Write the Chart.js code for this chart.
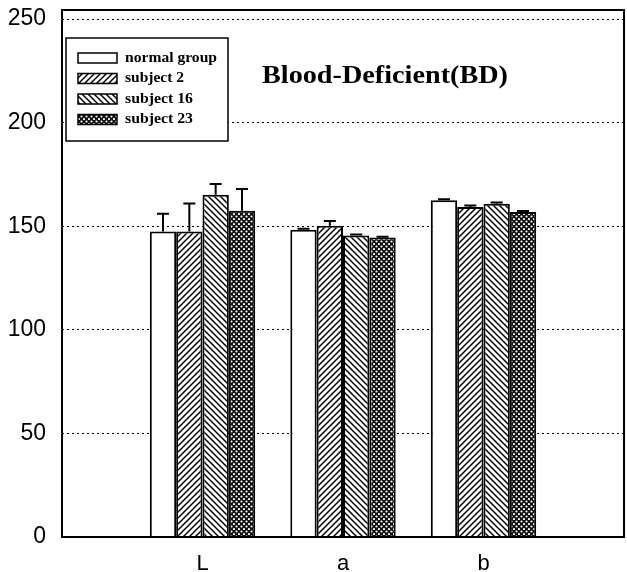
<!DOCTYPE html>
<html>
<head>
<meta charset="utf-8">
<script src="https://cdn.jsdelivr.net/npm/chart.js@4.4.1/dist/chart.umd.min.js"></script>
<style>
  body { margin: 0; background: #fff; }
  #wrap { width: 627px; height: 572px; }
</style>
</head>
<body>
<div id="wrap"><canvas id="chart" width="627" height="572"></canvas></div>
<script>
// --- DATA ---
const categories = ['', 'L', 'a', 'b', ''];
const seriesNames = ['normal group', 'subject 2', 'subject 16', 'subject 23'];
const normalGroup = [null, 147.5, 148.3, 162.5, null];
const subject2 = [null, 147.5, 150.2, 159.3, null];
const subject16 = [null, 165.2, 145.6, 160.9, null];
const subject23 = [null, 157.5, 144.6, 156.9, null];
// upper end of each error bar
const normalErr = [null, 156, 148.8, 163, null];
const subject2Err = [null, 161, 152.5, 160, null];
const subject16Err = [null, 170.4, 146, 161.5, null];
const subject23Err = [null, 168, 145, 157.4, null];
const yTicks = [0, 50, 100, 150, 200, 250];

// --- PATTERNS ---
function makePattern(kind) {
    const s = kind === 'dots' ? 5 : 6;
    const c = document.createElement('canvas');
    c.width = s; c.height = s;
    const g = c.getContext('2d');
    g.fillStyle = '#fff';
    g.fillRect(0, 0, s, s);
    g.strokeStyle = '#000';
    g.lineWidth = 1.5;
    if (kind === 'fwd') {
        g.beginPath();
        g.moveTo(0, s); g.lineTo(s, 0);
        g.moveTo(-1, 1); g.lineTo(1, -1);
        g.moveTo(s - 1, s + 1); g.lineTo(s + 1, s - 1);
        g.stroke();
    } else if (kind === 'back') {
        g.beginPath();
        g.moveTo(0, 0); g.lineTo(s, s);
        g.moveTo(s - 1, -1); g.lineTo(s + 1, 1);
        g.moveTo(-1, s - 1); g.lineTo(1, s + 1);
        g.stroke();
    } else if (kind === 'dots') {
        g.fillStyle = '#111';
        g.fillRect(0, 0, s, s);
        g.fillStyle = '#fff';
        g.beginPath();
        g.arc(1.5, 1.5, 1.1, 0, Math.PI * 2);
        g.arc(4, 4, 1.1, 0, Math.PI * 2);
        g.fill();
    }
    return g.createPattern(c, 'repeat');
}

const fills = ['#ffffff', makePattern('fwd'), makePattern('back'), makePattern('dots')];
const values = [normalGroup, subject2, subject16, subject23];
const errors = [normalErr, subject2Err, subject16Err, subject23Err];

// text squeezed/stretched to a given width
function fitText(ctx, text, x, y, w) {
    const m = ctx.measureText(text).width;
    ctx.save();
    ctx.translate(x, y);
    ctx.scale(w / m, 1);
    ctx.fillText(text, 0, 0);
    ctx.restore();
}

// --- PLUGINS ---
const framePlugin = {
    id: 'frame',
    afterDatasetsDraw(chart) {
        const ctx = chart.ctx;
        const a = chart.chartArea;
        const yScale = chart.scales.y;
        ctx.save();
        // error bars (upper only)
        ctx.strokeStyle = '#000';
        ctx.lineWidth = 2;
        chart.data.datasets.forEach((ds, i) => {
            const meta = chart.getDatasetMeta(i);
            meta.data.forEach((bar, j) => {
                const e = errors[i][j];
                if (e == null || ds.data[j] == null) return;
                const yTop = yScale.getPixelForValue(e);
                ctx.beginPath();
                ctx.moveTo(bar.x, bar.y);
                ctx.lineTo(bar.x, yTop);
                ctx.moveTo(bar.x - 6, yTop);
                ctx.lineTo(bar.x + 6, yTop);
                ctx.stroke();
            });
        });
        // frame
        ctx.lineWidth = 2;
        ctx.strokeRect(a.left, a.top, a.right - a.left, a.bottom - a.top);

        // title inside plot
        ctx.fillStyle = '#000';
        ctx.font = 'bold 25px "Liberation Serif", "Times New Roman", serif';
        ctx.textAlign = 'left';
        ctx.textBaseline = 'middle';
        fitText(ctx, 'Blood-Deficient(BD)', 262, 77, 246);

        // legend box
        const bx = 66, by = 38, bw = 162, bh = 103;
        ctx.fillStyle = '#fff';
        ctx.fillRect(bx, by, bw, bh);
        ctx.lineWidth = 1.5;
        ctx.strokeRect(bx, by, bw, bh);
        ctx.font = 'bold 14px "Liberation Serif", "Times New Roman", serif';
        const widths = [92, 59, 68, 68];
        chart.data.datasets.forEach((ds, i) => {
            const cy = 58 + i * 20.5;
            ctx.fillStyle = ds.backgroundColor;
            ctx.fillRect(78, cy - 5, 39, 10);
            ctx.lineWidth = 1.5;
            ctx.strokeStyle = '#000';
            ctx.strokeRect(78, cy - 5, 39, 10);
            ctx.fillStyle = '#000';
            fitText(ctx, ds.label, 125, cy, widths[i]);
        });
        ctx.restore();
    }
};

// --- CHART ---
new Chart(document.getElementById('chart'), {
    type: 'bar',
    data: {
        labels: categories,
        datasets: seriesNames.map((name, i) => ({
            label: name,
            data: values[i],
            backgroundColor: fills[i],
            borderColor: '#000',
            borderWidth: 2,
            borderSkipped: 'bottom',
            categoryPercentage: 0.75,
            barPercentage: 1
        }))
    },
    options: {
        responsive: false,
        animation: false,
        devicePixelRatio: 1,
        layout: { padding: { top: 10, right: 3, left: 0, bottom: 0 } },
        plugins: { legend: { display: false }, tooltip: { enabled: false } },
        scales: {
            x: {
                type: 'category',
                offset: false,
                grid: { display: false, drawTicks: false },
                border: { display: false },
                ticks: {
                    color: '#000',
                    font: { family: '"Liberation Sans", Arial, sans-serif', size: 22 },
                    padding: 14,
                    autoSkip: false,
                    maxRotation: 0
                },
                afterFit(scale) {
                    scale.height = 35;
                    scale.paddingLeft = 0;
                    scale.paddingRight = 0;
                }
            },
            y: {
                min: 0,
                max: 254.4,
                afterBuildTicks(scale) { scale.ticks = yTicks.map(v => ({ value: v })); },
                grid: {
                    drawTicks: false,
                    color: c => (c.tick && c.tick.value === 0 ? 'rgba(0,0,0,0)' : '#000'),
                    lineWidth: 1
                },
                border: { display: false, dash: [2, 3] },
                ticks: {
                    color: '#000',
                    font: { family: '"Liberation Sans", Arial, sans-serif', size: 23 },
                    padding: 16
                },
                afterFit(scale) {
                    scale.width = 62;
                    scale.paddingTop = 0;
                    scale.paddingBottom = 0;
                }
            }
        }
    },
    plugins: [framePlugin]
});
</script>
</body>
</html>
